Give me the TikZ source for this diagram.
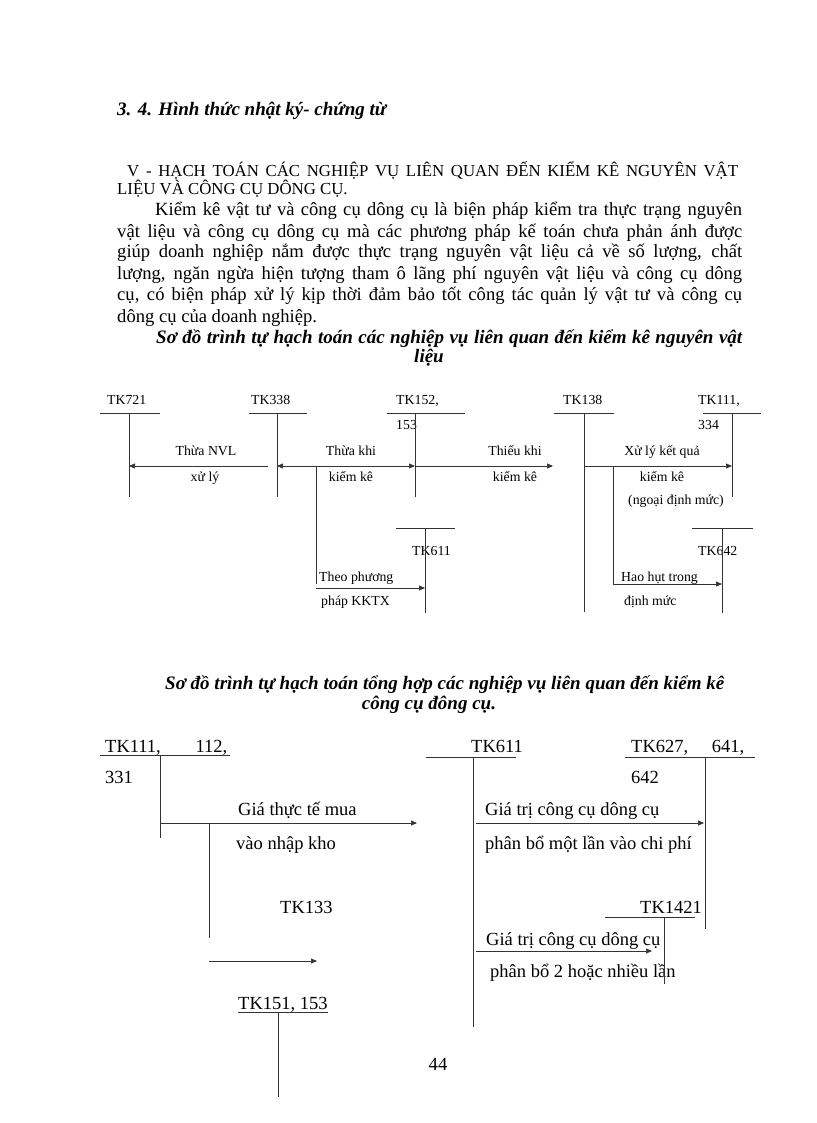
\documentclass[tikz,border=0pt]{standalone}
\usepackage{fontspec}
\setmainfont{Liberation Serif}
\usetikzlibrary{arrows.meta}
\newcommand\fbody{\fontsize{18.6}{21}\selectfont}
\newcommand\fbi{\fontsize{19}{21}\selectfont\bfseries\itshape}
\newcommand\fhead{\fontsize{16.8}{18}\selectfont}
\newcommand\fdia{\fontsize{13.8}{16}\selectfont}
\newcommand\fdib{\fontsize{18.5}{20}\selectfont}
\begin{document}
\begin{tikzpicture}[x=1pt,y=-1pt,
  tx/.style={inner sep=0pt, anchor=base west},
  tc/.style={inner sep=0pt, anchor=base},
  ln/.style={line width=0.7pt, draw=black!80},
  arr/.style={ln, -{Triangle[length=6pt,width=5pt]}},
  darr/.style={ln, {Triangle[length=6pt,width=5pt]}-{Triangle[length=6pt,width=5pt]}}]
\useasboundingbox (0,0) rectangle (816,1123);

% ---------- text ----------
\node[tx] (title) at (117,116) {\fbi 3. 4. Hình thức nhật ký- chứng từ};
\node[tx] (h1) at (127,177) {\fhead\makebox[611pt][s]{V - HẠCH TOÁN CÁC NGHIỆP VỤ LIÊN QUAN ĐẾN KIỂM KÊ NGUYÊN VẬT}};
\node[tx] (h2) at (117,195) {\fhead LIỆU VÀ CÔNG CỤ DÔNG CỤ.};
\node[tx] (p1) at (155,216) {\fbody\makebox[587pt][s]{Kiểm kê vật tư và công cụ dông cụ là biện pháp kiểm tra thực trạng nguyên}};
\node[tx] (p2) at (117,237) {\fbody\makebox[625pt][s]{vật liệu và công cụ dông cụ mà các phương pháp kế toán chưa phản ánh được}};
\node[tx] (p3) at (117,258) {\fbody\makebox[625pt][s]{giúp doanh nghiệp nắm được thực trạng nguyên vật liệu cả về số lượng, chất}};
\node[tx] (p4) at (117,279) {\fbody\makebox[625pt][s]{lượng, ngăn ngừa hiện tượng tham ô lãng phí nguyên vật liệu và công cụ dông}};
\node[tx] (p5) at (117,300) {\fbody\makebox[625pt][s]{cụ, có biện pháp xử lý kịp thời đảm bảo tốt công tác quản lý vật tư và công cụ}};
\node[tx] (p6) at (117,322) {\fbody dông cụ của doanh nghiệp.};
\node[tx] (c1) at (156,343) {\fbi\makebox[586pt][s]{Sơ đồ trình tự hạch toán các nghiệp vụ liên quan đến kiểm kê nguyên vật}};
\node[tc] (c1b) at (429,362) {\fbi liệu};

% ---------- diagram 1 ----------
\node[tx] (n721) at (107,404) {\fdia TK721};
\node[tx] (n338) at (251,404) {\fdia TK338};
\node[tx] (n152) at (396,404) {\fdia TK152,};
\node[tx] (n153) at (396,429) {\fdia 153};
\node[tx] (n138) at (563,404) {\fdia TK138};
\node[tx] (n111) at (698,404) {\fdia TK111,};
\node[tx] (n334) at (698,429) {\fdia 334};
\node[tc] (l1a) at (206,455) {\fdia Thừa NVL};
\node[tc] (l1b) at (205,481) {\fdia xử lý};
\node[tc] (l2a) at (351,455) {\fdia Thừa khi};
\node[tc] (l2b) at (351,481) {\fdia kiểm kê};
\node[tc] (l3a) at (515,455) {\fdia Thiếu khi};
\node[tc] (l3b) at (515,481) {\fdia kiểm kê};
\node[tc] (l4a) at (662,455) {\fdia Xử lý kết quả};
\node[tc] (l4b) at (662,481) {\fdia kiểm kê};
\node[tc] (l4c) at (676,504) {\fdia (ngoại định mức)};
\node[tx] (n611) at (412,555) {\fdia TK611};
\node[tx] (n642) at (698,555) {\fdia TK642};
\node[tx] (l5a) at (319,581) {\fdia Theo phương};
\node[tx] (l5b) at (321,605) {\fdia pháp KKTX};
\node[tx] (l6a) at (621,581) {\fdia Hao hụt trong};
\node[tx] (l6b) at (624,605) {\fdia định mức};

% T accounts
\coordinate (a721l) at (100,413); \coordinate (a721r) at (160,413);
\coordinate (a721t) at (129,413); \coordinate (a721b) at (129,497);
\coordinate (a338l) at (249,413); \coordinate (a338r) at (307,413);
\coordinate (a338t) at (277,413); \coordinate (a338b) at (277,497);
\coordinate (a152l) at (387,413); \coordinate (a152r) at (465,413);
\coordinate (a152t) at (415,413); \coordinate (a152b) at (415,497);
\coordinate (a138l) at (554,413); \coordinate (a138r) at (614,413);
\coordinate (a138t) at (584,413); \coordinate (a138b) at (584,612);
\coordinate (a111l) at (703,413); \coordinate (a111r) at (761,413);
\coordinate (a111t) at (732,413); \coordinate (a111b) at (732,497);
\coordinate (a611l) at (396,528); \coordinate (a611r) at (455,528);
\coordinate (a611t) at (425,528); \coordinate (a611b) at (425,613);
\coordinate (a642l) at (692,528); \coordinate (a642r) at (753,528);
\coordinate (a642t) at (722,528); \coordinate (a642b) at (722,613);
\foreach \a in {721,338,152,138,111,611,642}{
  \draw[ln] (a\a l) -- (a\a r);
  \draw[ln] (a\a t) -- (a\a b);
}
% arrows
\coordinate (r1s) at (268,466); \coordinate (r1e) at (129,466);
\coordinate (r2s) at (277,466); \coordinate (r2e) at (415,466);
\coordinate (r3e) at (553,466);
\coordinate (r4s) at (584,466); \coordinate (r4e) at (732,466);
\draw[arr] (r1s) -- (r1e);
\draw[darr] (r2s) -- (r2e);
\draw[arr] (r2e) -- (r3e);
\draw[arr] (r4s) -- (r4e);
\coordinate (b1t) at (316,466); \coordinate (b1b) at (316,584);
\coordinate (b1s) at (316,588); \coordinate (b1e) at (425,588);
\draw[ln] (b1t) -- (b1b);
\draw[arr] (b1s) -- (b1e);
\coordinate (b2t) at (613,466); \coordinate (b2b) at (613,584);
\coordinate (b2e) at (722,584);
\draw[ln] (b2t) -- (b2b);
\draw[arr] (b2b) -- (b2e);

% ---------- caption 2 ----------
\node[tx] (c2) at (165,689) {\fbi Sơ đồ trình tự hạch toán tổng hợp các nghiệp vụ liên quan đến kiểm kê};
\node[tc] (c2b) at (429,709) {\fbi công cụ đông cụ.};

% ---------- diagram 2 ----------
\node[tx] (m111) at (105,752) {\fdib\makebox[122pt][s]{TK111, 112,}};
\node[tx] (m331) at (105,783) {\fdib 331};
\node[tx] (m611) at (471,752) {\fdib TK611};
\node[tx] (m627) at (631,752) {\fdib\makebox[113pt][s]{TK627, 641,}};
\node[tx] (m642) at (631,783) {\fdib 642};
\node[tx] (k1a) at (238,815) {\fdib Giá thực tế mua};
\node[tx] (k1b) at (236,849) {\fdib vào nhập kho};
\node[tx] (k2a) at (485,815) {\fdib Giá trị công cụ dông cụ};
\node[tx] (k2b) at (485,849) {\fdib phân bổ một lần vào chi phí};
\node[tx] (m133) at (280,913) {\fdib TK133};
\node[tx] (m1421) at (640,913) {\fdib TK1421};
\node[tx] (k3a) at (486,945) {\fdib Giá trị công cụ dông cụ};
\node[tx] (k3b) at (490,977) {\fdib phân bổ 2 hoặc nhiều lần};
\node[tx] (m151) at (238,1009) {\fdib TK151, 153};
\node[tc] (pg) at (438,1070) {\fbody 44};

\coordinate (e111l) at (100,755); \coordinate (e111r) at (230,755);
\coordinate (e111t) at (160,755); \coordinate (e111b) at (160,838);
\coordinate (e611l) at (426,757); \coordinate (e611r) at (516,757);
\coordinate (e611t) at (473,757); \coordinate (e611b) at (473,1027);
\coordinate (e627l) at (625,757); \coordinate (e627r) at (755,757);
\coordinate (e627t) at (705,757); \coordinate (e627b) at (705,929);
\coordinate (e1421l) at (605,917); \coordinate (e1421r) at (695,917);
\coordinate (e1421t) at (664,917); \coordinate (e1421b) at (664,984);
\coordinate (e151l) at (238,1012); \coordinate (e151r) at (328,1012);
\coordinate (e151t) at (278,1012); \coordinate (e151b) at (278,1097);
\foreach \a in {111,611,627,1421,151}{
  \draw[ln] (e\a l) -- (e\a r);
  \draw[ln] (e\a t) -- (e\a b);
}
\coordinate (f1s) at (160,823); \coordinate (f1e) at (417,823);
\coordinate (f2t) at (209,823); \coordinate (f2b) at (209,938);
\coordinate (f3s) at (209,961); \coordinate (f3e) at (317,961);
\coordinate (f4s) at (476,823); \coordinate (f4e) at (704,823);
\coordinate (f5s) at (476,951); \coordinate (f5e) at (652,951);
\draw[arr] (f1s) -- (f1e);
\draw[ln] (f2t) -- (f2b);
\draw[arr] (f3s) -- (f3e);
\draw[arr] (f4s) -- (f4e);
\draw[arr] (f5s) -- (f5e);
\end{tikzpicture}
\end{document}
